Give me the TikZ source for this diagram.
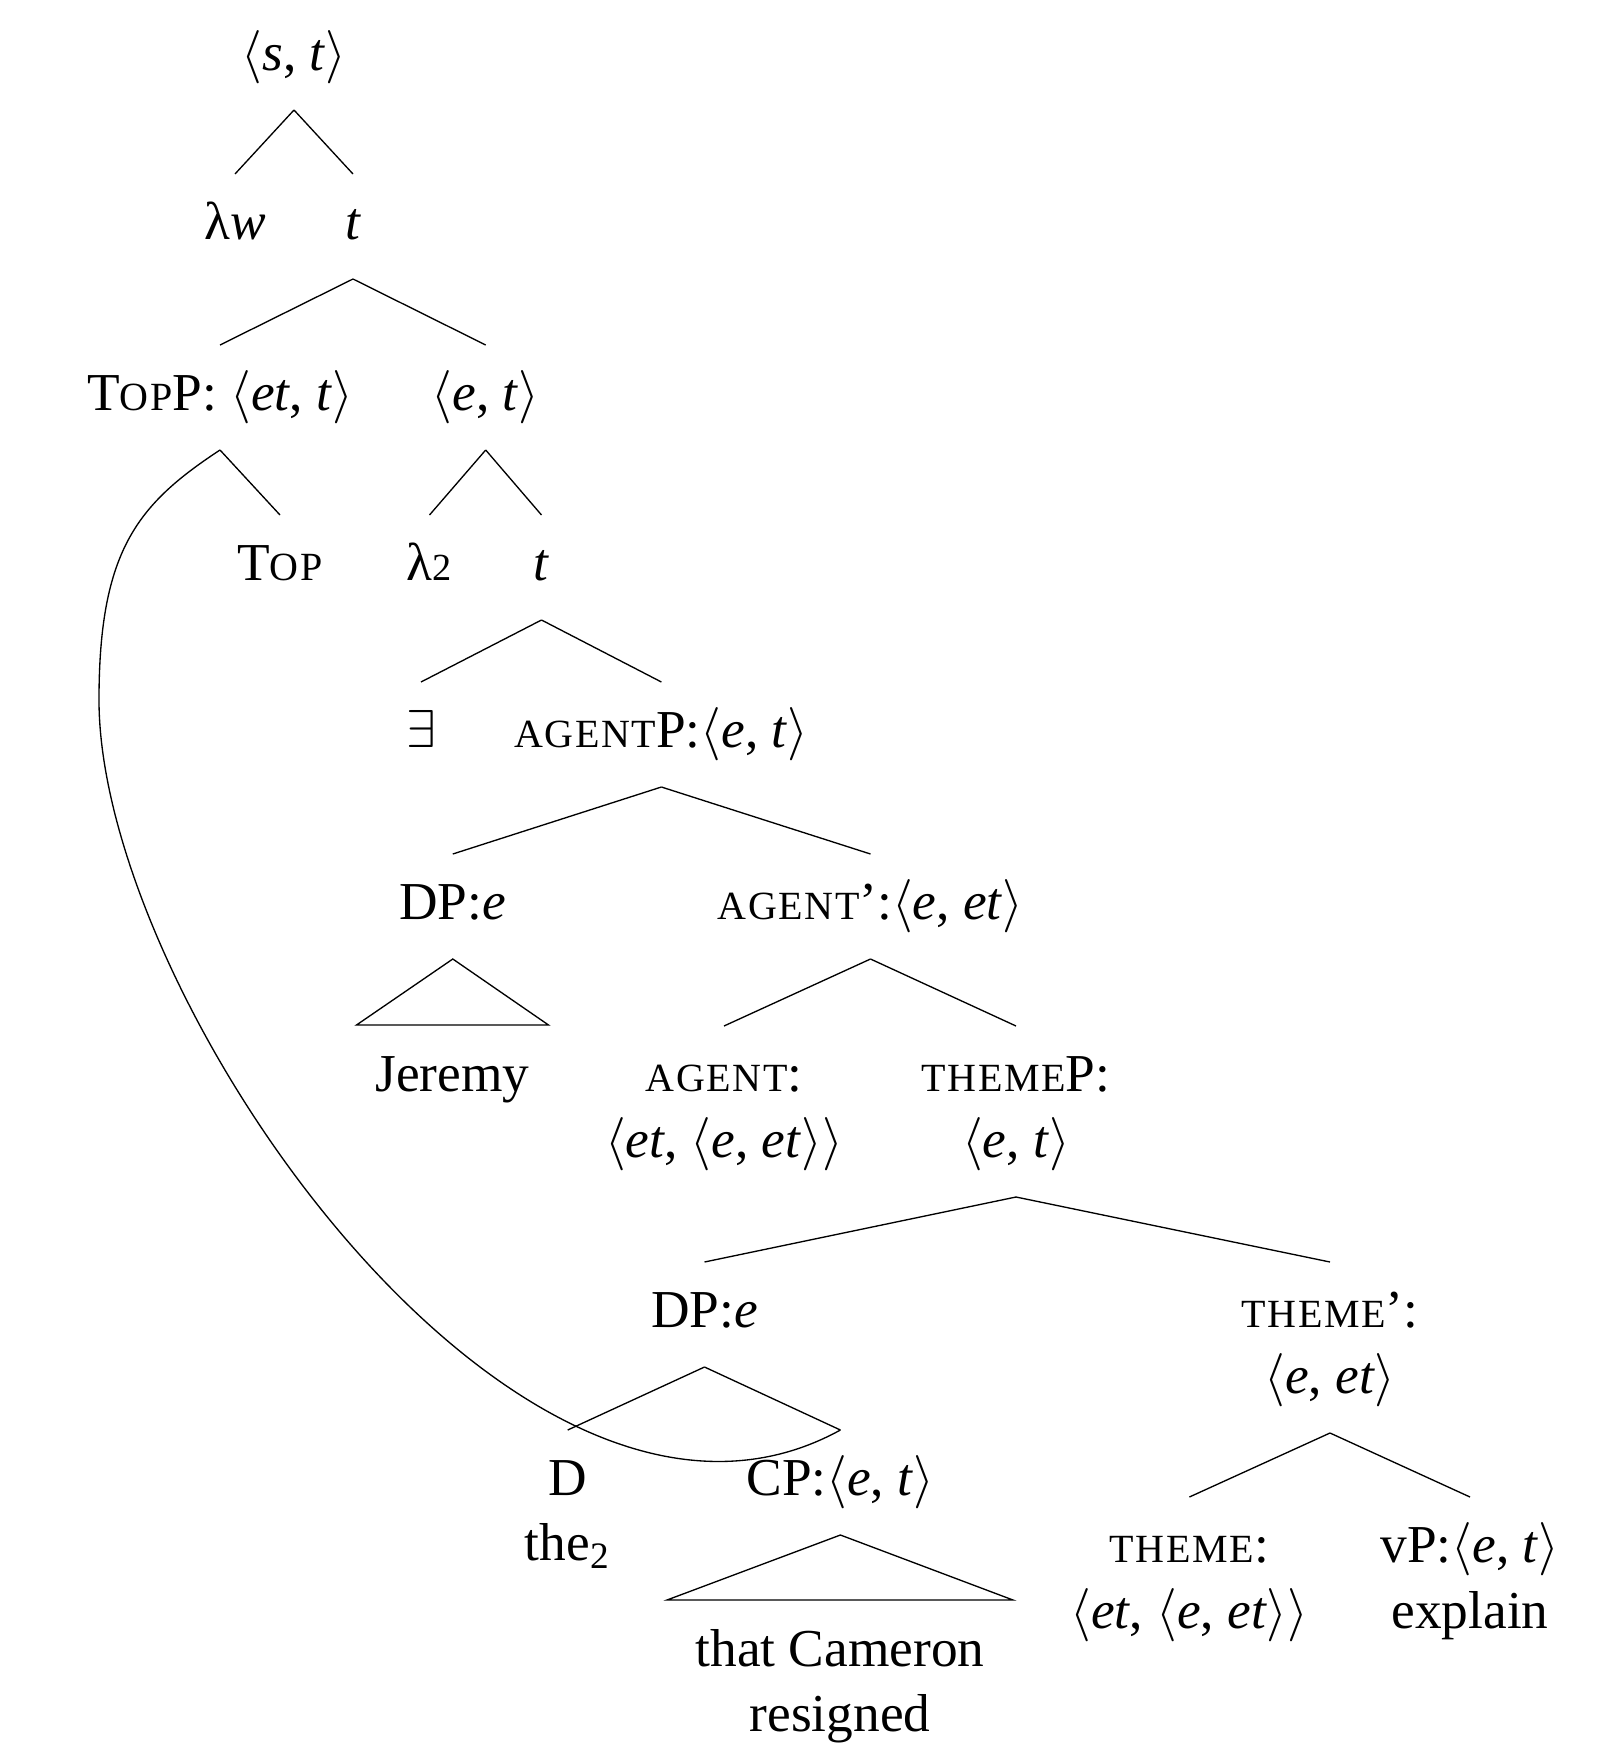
\RequirePackage{fix-cm}
\documentclass[tikz,border=0pt]{standalone}
\usepackage{fontspec}
\setmainfont{Liberation Serif}
\newfontfamily\scfam[LetterSpace=4.0]{Liberation Serif}
\usetikzlibrary{calc}
\newcommand\fsc[1]{{\scfam\fontsize{12}{14}\selectfont\MakeUppercase{#1}}}
\newcommand\osf[1]{{\fontsize{11.5}{14}\selectfont #1}}
\newcommand\ang[1]{\ensuremath{\langle}#1\ensuremath{\rangle}}
\newcommand\itx[1]{\textit{#1}}
\newcommand\br[2]{\draw[edge] ($(#1.base)+(0,40)$) -- ($(#2.base)+(0,-65)$);}
\newcommand\roof[3]{\draw[edge] ($(#1.base)+(0,40)$) -- ($(#2.base)+(-#3,-66)$) -- ($(#2.base)+(#3,-66)$) -- cycle;}
\begin{document}
\begin{tikzpicture}[x=0.3pt,y=-0.3pt,
  lbl/.style={anchor=base, inner sep=0pt, font=\fontsize{16}{19.8}\selectfont},
  edge/.style={line width=0.4pt}]
\useasboundingbox (0,0) rectangle (1617,1745);
% row 1
\node[lbl] (st) at (294,70) {\ang{\itx{s}, \itx{t}}};
% row 2
\node[lbl] (lw) at (235,239) {λ\itx{w}};
\node[lbl] (t1) at (353,239) {\itx{t}};
% row 3
\node[lbl] (topp) at (220,410) {T\fsc{op}P: \ang{\itx{et}, \itx{t}}};
\node[lbl] (et1) at (485.7,410) {\ang{\itx{e}, \itx{t}}};
% row 4
\node[lbl] (top) at (280,580) {T\fsc{op}};
\node[lbl] (l2) at (429.5,580) {λ\osf{2}};
\node[lbl] (t2) at (541.5,580) {\itx{t}};
% row 5
\node[lbl] (ex) at (421,747) {$\exists$};
\node[lbl] (agp) at (661.4,747) {\fsc{agent}P:\ang{\itx{e}, \itx{t}}};
% row 6
\node[lbl] (dp1) at (452.8,919) {DP:\itx{e}};
\node[lbl] (agb) at (870.5,919) {\fsc{agent}’:\ang{\itx{e}, \itx{et}}};
% row 7
\node[lbl] (jer) at (452.5,1091) {Jeremy};
\node[lbl] (aga) at (724,1091) {\fsc{agent}:};
\node[lbl] (agat) at (724,1157) {\ang{\itx{et}, \ang{\itx{e}, \itx{et}}}};
\node[lbl] (thp) at (1016,1091) {\fsc{theme}P:};
\node[lbl] (thpt) at (1016,1157) {\ang{\itx{e}, \itx{t}}};
% row 8
\node[lbl] (dp2) at (704.5,1327) {DP:\itx{e}};
\node[lbl] (thb) at (1330,1327) {\fsc{theme}’:};
\node[lbl] (thbt) at (1330,1393) {\ang{\itx{e}, \itx{et}}};
% row 9
\node[lbl] (d) at (567.7,1495) {D};
\node[lbl] (the) at (567.7,1560) {the\textsubscript{2}};
\node[lbl] (cp) at (840.4,1495) {CP:\ang{\itx{e}, \itx{t}}};
% row 10
\node[lbl] (tha) at (1189.4,1562) {\fsc{theme}:};
\node[lbl] (that) at (1189.4,1628) {\ang{\itx{et}, \ang{\itx{e}, \itx{et}}}};
\node[lbl] (vp) at (1470,1562) {vP:\ang{\itx{e}, \itx{t}}};
\node[lbl] (expl) at (1470,1628) {explain};
% row 11
\node[lbl] (tc) at (840,1666) {that Cameron};
\node[lbl] (res) at (840,1731) {resigned};
% branches
\br{st}{lw}
\br{st}{t1}
\br{t1}{topp}
\br{t1}{et1}
\br{topp}{top}
\br{et1}{l2}
\br{et1}{t2}
\br{t2}{ex}
\br{t2}{agp}
\br{agp}{dp1}
\br{agp}{agb}
\roof{dp1}{jer}{96}
\br{agb}{aga}
\br{agb}{thp}
\br{thpt}{dp2}
\br{thpt}{thb}
\br{dp2}{d}
\br{dp2}{cp}
\roof{cp}{tc}{173}
\br{thbt}{tha}
\br{thbt}{vp}
% movement curve
\coordinate (cpTop) at ($(cp.base)+(0,-65)$);
\coordinate (toppApex) at ($(topp.base)+(0,40)$);
\coordinate (curveL) at (99,700);
\draw[edge] (cpTop) .. controls +(-320,176) and (99,1000) .. (curveL)
  .. controls (99,550) and (138,504) .. (toppApex);
\end{tikzpicture}
\end{document}
